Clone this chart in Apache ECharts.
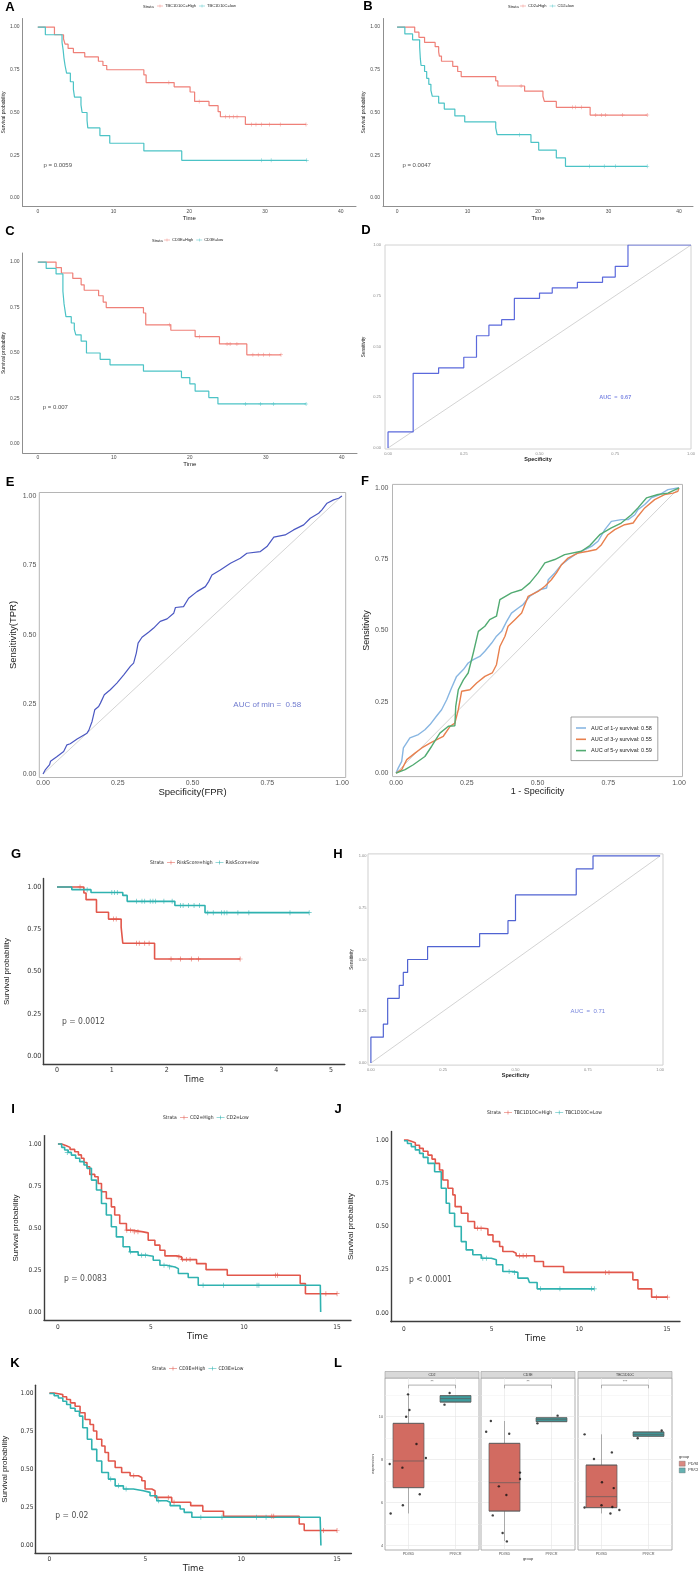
<!DOCTYPE html>
<html>
<head>
<meta charset="utf-8">
<title>Survival and ROC panels</title>
<script src="https://cdn.jsdelivr.net/npm/echarts@6.0.0/dist/echarts.min.js"></script>
<style>
html, body { margin: 0; padding: 0; background: #fff; }
#main { width: 698px; height: 1575px; }
</style>
</head>
<body>
<div id="main"></div>
<script>
// ---------- Kaplan-Meier curves: [time, survival] ----------
var kmA_high = [[0,1],[2.2,0.955],[3.4,0.93],[3.6,0.90],[4.0,0.875],[4.7,0.85],[6.2,0.825],[8.0,0.80],[8.6,0.775],[9.1,0.75],[14.0,0.72],[14.3,0.675],[18.0,0.65],[20.1,0.62],[20.7,0.565],[22.6,0.54],[23.8,0.505],[24.1,0.475],[27.4,0.43],[35.4,0.43]];
var kmA_low = [[0,1],[1.0,0.955],[3.2,0.91],[3.35,0.865],[3.45,0.82],[3.6,0.775],[3.8,0.73],[4.3,0.68],[4.7,0.635],[4.85,0.59],[5.7,0.545],[5.85,0.50],[6.5,0.455],[6.6,0.41],[8.2,0.365],[9.5,0.32],[14.0,0.275],[19.0,0.22],[35.5,0.22]];
var cenA_high = [[17.3,0.675],[21.3,0.565],[24.8,0.475],[25.3,0.475],[25.8,0.475],[26.3,0.475],[28.2,0.43],[28.8,0.43],[29.5,0.43],[30.6,0.43],[32.0,0.43],[35.4,0.43]];
var cenA_low = [[29.5,0.22],[30.8,0.22],[35.5,0.22]];

var kmB_high = [[0,1],[2.5,0.97],[3.1,0.94],[3.9,0.91],[5.4,0.885],[5.9,0.855],[6.0,0.83],[6.3,0.80],[7.9,0.77],[8.6,0.74],[9.1,0.71],[14.0,0.685],[14.3,0.655],[18.1,0.625],[20.7,0.595],[20.9,0.565],[22.6,0.53],[27.4,0.485],[35.5,0.485]];
var kmB_low = [[0,1],[1.1,0.96],[2.2,0.925],[3.2,0.885],[3.3,0.815],[3.4,0.775],[3.9,0.74],[4.2,0.70],[4.5,0.665],[4.8,0.63],[5.0,0.595],[5.9,0.555],[6.7,0.52],[8.2,0.48],[9.6,0.445],[14.0,0.41],[14.2,0.37],[19.0,0.325],[20.1,0.28],[22.6,0.235],[23.9,0.185],[35.5,0.185]];
var cenB_high = [[17.6,0.655],[24.9,0.53],[25.3,0.53],[26.2,0.53],[28.2,0.485],[29.0,0.485],[29.6,0.485],[32.0,0.485],[35.5,0.485]];
var cenB_low = [[17.4,0.37],[27.3,0.185],[29.4,0.185],[31.0,0.185],[35.5,0.185]];

var kmC_high = [[0,1],[2.4,0.97],[3.1,0.94],[4.6,0.91],[5.7,0.875],[6.1,0.845],[8.0,0.815],[8.6,0.78],[9.0,0.75],[13.9,0.72],[14.2,0.655],[17.5,0.625],[20.7,0.59],[23.9,0.55],[27.5,0.49],[32.0,0.49]];
var kmC_low = [[0,1],[1.1,0.965],[2.4,0.935],[3.3,0.84],[3.45,0.77],[3.7,0.70],[4.4,0.665],[4.8,0.63],[5.0,0.60],[5.7,0.565],[6.4,0.50],[8.2,0.465],[9.5,0.435],[13.9,0.40],[18.9,0.365],[20.0,0.33],[20.7,0.29],[22.5,0.255],[23.7,0.22],[35.3,0.22]];
var cenC_high = [[17.3,0.655],[21.3,0.59],[24.9,0.55],[25.3,0.55],[26.2,0.55],[28.3,0.49],[29.0,0.49],[29.7,0.49],[30.5,0.49],[32.0,0.49]];
var cenC_low = [[27.3,0.22],[29.3,0.22],[31.0,0.22],[35.3,0.22]];

var kmG_high = [[0,1],[0.49,0.964],[0.53,0.925],[0.72,0.85],[0.94,0.81],[1.17,0.762],[1.2,0.667],[1.78,0.574],[3.34,0.574]];
var kmG_low = [[0,1],[0.27,0.984],[0.62,0.967],[1.2,0.95],[1.28,0.915],[2.15,0.89],[2.7,0.848],[4.6,0.848]];
var cenG_high = [[0.42,1],[1.03,0.81],[1.08,0.81],[1.45,0.667],[1.5,0.667],[1.6,0.667],[1.68,0.667],[2.08,0.574],[2.25,0.574],[2.45,0.574],[2.58,0.574],[3.34,0.574]];
var cenG_low = [[0.55,0.984],[1.0,0.967],[1.05,0.967],[1.1,0.967],[1.45,0.915],[1.55,0.915],[1.6,0.915],[1.7,0.915],[1.75,0.915],[1.8,0.915],[1.95,0.915],[2.1,0.915],[2.25,0.89],[2.3,0.89],[2.4,0.89],[2.5,0.89],[2.6,0.89],[2.75,0.848],[2.85,0.848],[3.0,0.848],[3.05,0.848],[3.1,0.848],[3.3,0.848],[3.5,0.848],[4.25,0.848],[4.6,0.848]];

var kmI_high = [[0,1.0],[0.2,0.99],[0.45,0.98],[0.65,0.968],[0.9,0.954],[1.1,0.935],[1.26,0.915],[1.4,0.89],[1.56,0.865],[1.71,0.819],[1.98,0.805],[2.16,0.765],[2.34,0.716],[2.6,0.676],[2.87,0.626],[3.05,0.577],[3.32,0.527],[3.68,0.487],[4.04,0.477],[4.58,0.471],[4.85,0.427],[5.21,0.398],[5.48,0.368],[5.75,0.334],[6.38,0.328],[6.65,0.312],[7.45,0.288],[7.96,0.252],[9.1,0.219],[13.02,0.169],[13.3,0.109],[15.0,0.109]];
var kmI_low = [[0,1.0],[0.2,0.98],[0.36,0.964],[0.55,0.95],[0.72,0.934],[0.95,0.915],[1.17,0.895],[1.4,0.875],[1.56,0.855],[1.8,0.785],[2.07,0.726],[2.34,0.646],[2.6,0.577],[2.87,0.507],[3.14,0.447],[3.5,0.388],[3.86,0.358],[4.31,0.338],[4.76,0.332],[5.12,0.308],[5.48,0.278],[5.84,0.268],[6.29,0.258],[6.47,0.229],[7.0,0.205],[7.54,0.159],[14.1,0.159],[14.12,0]];
var cenI_high = [[3.7,0.487],[3.9,0.487],[4.1,0.477],[4.3,0.477],[6.5,0.328],[6.7,0.312],[6.9,0.312],[7.1,0.312],[11.7,0.219],[11.8,0.219],[14.4,0.109],[15.0,0.109]];
var cenI_low = [[0.5,0.95],[3.9,0.358],[4.5,0.338],[4.7,0.338],[5.7,0.278],[6.0,0.268],[7.8,0.159],[8.9,0.159],[10.7,0.159],[10.8,0.159]];

var kmJ_high = [[0,1.0],[0.2,0.993],[0.42,0.985],[0.65,0.97],[0.89,0.952],[1.1,0.935],[1.37,0.913],[1.6,0.89],[1.79,0.865],[2.03,0.827],[2.22,0.769],[2.51,0.721],[2.79,0.683],[2.92,0.615],[3.27,0.577],[3.65,0.529],[4.03,0.49],[4.5,0.487],[4.79,0.452],[5.08,0.413],[5.46,0.385],[5.64,0.356],[6.21,0.346],[6.4,0.331],[7.45,0.298],[7.96,0.269],[9.11,0.235],[13.06,0.192],[13.35,0.14],[14.13,0.092],[15.04,0.092]];
var kmJ_low = [[0,0.996],[0.2,0.98],[0.42,0.962],[0.65,0.943],[0.89,0.923],[1.1,0.9],[1.37,0.865],[1.75,0.817],[2.13,0.721],[2.41,0.635],[2.6,0.577],[2.89,0.5],[3.27,0.413],[3.55,0.365],[3.93,0.337],[4.41,0.317],[4.98,0.308],[5.27,0.279],[5.64,0.24],[6.21,0.235],[6.5,0.202],[7.07,0.192],[7.16,0.177],[7.6,0.14],[10.86,0.14]];
var cenJ_high = [[4.2,0.49],[4.4,0.49],[6.6,0.331],[6.8,0.331],[7.0,0.331],[11.5,0.235],[11.7,0.235],[14.4,0.092],[15.04,0.092]];
var cenJ_low = [[4.5,0.317],[4.7,0.317],[6.0,0.24],[6.3,0.235],[7.8,0.14],[8.9,0.14],[10.7,0.14],[10.86,0.14]];

var kmK_high = [[0,1.0],[0.25,0.995],[0.47,0.989],[0.7,0.975],[0.9,0.957],[1.1,0.935],[1.34,0.913],[1.6,0.87],[1.86,0.826],[2.12,0.793],[2.3,0.75],[2.47,0.696],[2.73,0.652],[2.9,0.609],[3.08,0.554],[3.43,0.511],[3.77,0.478],[4.21,0.457],[4.64,0.446],[4.82,0.424],[4.99,0.37],[5.34,0.359],[5.51,0.315],[6.38,0.283],[7.37,0.261],[8.0,0.224],[9.08,0.191],[13.03,0.141],[13.29,0.098],[15.0,0.098]];
var kmK_low = [[0,0.996],[0.25,0.982],[0.47,0.967],[0.7,0.945],[0.9,0.924],[1.1,0.9],[1.34,0.88],[1.57,0.848],[1.74,0.772],[1.98,0.696],[2.21,0.63],[2.47,0.554],[2.73,0.478],[3.08,0.435],[3.43,0.391],[3.86,0.37],[4.38,0.359],[4.9,0.348],[5.25,0.326],[5.6,0.293],[6.12,0.283],[6.3,0.261],[6.82,0.239],[7.03,0.217],[7.43,0.185],[14.12,0.185],[14.16,0]];
var cenK_high = [[4.4,0.457],[6.2,0.315],[6.5,0.283],[11.6,0.191],[11.7,0.191],[14.3,0.098],[15.0,0.098]];
var cenK_low = [[3.2,0.435],[3.6,0.391],[4.0,0.37],[5.7,0.293],[7.9,0.185],[9.0,0.185],[10.8,0.185],[11.3,0.185]];

// ---------- ROC curves: [1 - specificity, sensitivity] ----------
var diag = [[0,0],[1,1]];
var rocD = [[0,0],[0,0.079],[0.083,0.079],[0.083,0.368],[0.167,0.368],[0.167,0.395],[0.25,0.395],[0.25,0.447],[0.292,0.447],[0.292,0.553],[0.333,0.553],[0.333,0.605],[0.375,0.605],[0.375,0.632],[0.417,0.632],[0.417,0.737],[0.5,0.737],[0.5,0.763],[0.542,0.763],[0.542,0.789],[0.625,0.789],[0.625,0.816],[0.708,0.816],[0.708,0.842],[0.75,0.842],[0.75,0.895],[0.792,0.895],[0.792,1],[1,1]];
var rocH = [[0,0],[0,0.125],[0.043,0.125],[0.043,0.1875],[0.058,0.1875],[0.058,0.3125],[0.098,0.3125],[0.098,0.375],[0.112,0.375],[0.112,0.4375],[0.127,0.4375],[0.127,0.5],[0.196,0.5],[0.196,0.5625],[0.376,0.5625],[0.376,0.625],[0.474,0.625],[0.474,0.6875],[0.5,0.6875],[0.5,0.8125],[0.71,0.8125],[0.71,0.9375],[0.768,0.9375],[0.768,1],[1,1]];
var rocE = [[0,0],[0.008,0.016],[0.022,0.034],[0.025,0.046],[0.047,0.063],[0.069,0.081],[0.08,0.105],[0.091,0.109],[0.114,0.126],[0.147,0.147],[0.153,0.157],[0.164,0.189],[0.173,0.231],[0.186,0.243],[0.192,0.255],[0.205,0.285],[0.225,0.303],[0.247,0.327],[0.27,0.357],[0.292,0.387],[0.303,0.399],[0.312,0.435],[0.318,0.471],[0.331,0.492],[0.353,0.51],[0.37,0.525],[0.392,0.549],[0.415,0.558],[0.437,0.578],[0.443,0.599],[0.47,0.602],[0.487,0.632],[0.515,0.656],[0.543,0.674],[0.554,0.692],[0.565,0.716],[0.593,0.734],[0.627,0.758],[0.66,0.776],[0.682,0.794],[0.727,0.8],[0.749,0.818],[0.772,0.852],[0.81,0.86],[0.838,0.878],[0.872,0.896],[0.894,0.92],[0.922,0.938],[0.933,0.95],[0.95,0.974],[0.972,0.986],[0.989,0.992],[1,1]];
var rocF1 = [[0,0],[0.008,0.018],[0.02,0.041],[0.026,0.088],[0.049,0.123],[0.079,0.135],[0.102,0.152],[0.12,0.17],[0.144,0.201],[0.161,0.222],[0.179,0.257],[0.196,0.298],[0.214,0.339],[0.238,0.363],[0.255,0.386],[0.273,0.398],[0.296,0.409],[0.314,0.427],[0.338,0.456],[0.355,0.48],[0.373,0.497],[0.391,0.532],[0.408,0.561],[0.432,0.579],[0.449,0.591],[0.473,0.62],[0.491,0.632],[0.508,0.643],[0.532,0.649],[0.538,0.678],[0.561,0.702],[0.585,0.731],[0.608,0.749],[0.632,0.766],[0.655,0.778],[0.691,0.795],[0.714,0.813],[0.738,0.854],[0.761,0.883],[0.796,0.889],[0.82,0.889],[0.844,0.906],[0.855,0.924],[0.879,0.942],[0.902,0.965],[0.932,0.977],[0.961,0.994],[0.996,1.0],[1,1]];
var rocF3 = [[0,0],[0.02,0.012],[0.038,0.047],[0.067,0.07],[0.091,0.088],[0.12,0.105],[0.144,0.117],[0.167,0.129],[0.191,0.164],[0.208,0.175],[0.22,0.222],[0.232,0.287],[0.261,0.292],[0.285,0.316],[0.314,0.339],[0.34,0.351],[0.355,0.38],[0.367,0.444],[0.385,0.48],[0.396,0.515],[0.42,0.538],[0.444,0.561],[0.467,0.62],[0.502,0.637],[0.526,0.655],[0.549,0.678],[0.567,0.702],[0.585,0.731],[0.608,0.754],[0.644,0.772],[0.679,0.778],[0.708,0.784],[0.726,0.801],[0.749,0.836],[0.773,0.854],[0.808,0.871],[0.838,0.877],[0.855,0.901],[0.879,0.93],[0.914,0.959],[0.949,0.977],[0.979,0.982],[0.996,0.988],[1,1]];
var rocF5 = [[0,0],[0.032,0.012],[0.061,0.029],[0.102,0.058],[0.126,0.094],[0.155,0.14],[0.185,0.164],[0.208,0.166],[0.211,0.234],[0.22,0.292],[0.238,0.327],[0.255,0.351],[0.273,0.421],[0.291,0.497],[0.314,0.515],[0.331,0.538],[0.355,0.55],[0.367,0.608],[0.408,0.632],[0.444,0.643],[0.473,0.667],[0.502,0.702],[0.526,0.737],[0.561,0.749],[0.596,0.766],[0.655,0.778],[0.685,0.798],[0.72,0.836],[0.761,0.86],[0.796,0.877],[0.832,0.906],[0.855,0.93],[0.885,0.965],[0.926,0.977],[0.961,0.982],[0.991,0.996],[1,1]];

// ---------- Box plots (panel L): [min, Q1, median, Q3, max] ----------
var geneNames = ['CD2', 'CD3E', 'TBC1D10C'];
var groupNames = ['PD/SD', 'PR/CR'];
var boxPD = [[5.5,6.70,7.94,9.69,11.04],[4.22,5.61,6.93,8.76,9.8],[5.5,5.77,6.28,7.75,9.18]];
var boxPR = [[10.68,10.68,10.84,10.98,10.98],[9.77,9.77,9.86,9.95,9.95],[9.09,9.09,9.18,9.29,9.29]];
var jitterPD = [
  [[-0.01,11.04],[0.02,10.31],[-0.05,10.0],[0.17,8.73],[0.37,8.08],[-0.4,7.8],[-0.13,7.63],[0.24,6.39],[-0.12,5.88],[-0.38,5.5]],
  [[-0.29,9.8],[-0.39,9.3],[0.1,9.21],[0.33,7.4],[0.33,7.1],[-0.12,6.76],[0.04,6.36],[-0.25,5.41],[-0.04,4.59],[0.05,4.2]],
  [[-0.36,9.18],[-0.16,8.03],[0.22,8.34],[0.01,6.95],[0.26,6.68],[0,5.88],[-0.36,5.78],[0.23,5.8],[0.19,5.5],[0.38,5.66]]
];
var jitterPR = [
  [[0.875,11.1],[0.766,10.56]],
  [[1.13,10.05],[0.7,9.69]],
  [[1.28,9.36],[0.77,9.0]]
];
var sigStars = ['**', '**', '***'];
var bracket = [[0,11.32],[0,11.47],[1,11.47],[1,11.32]];
var majorY = [4, 6, 8, 10];
var minorY = [5, 7, 9, 11];

// ---------- helpers ----------
var F_REG = 'Liberation Sans, Arial, sans-serif';
var F_NAR = 'Liberation Sans Narrow, DejaVu Sans Condensed, Arial Narrow, sans-serif';
var PLUS = 'path://M4.3,0H5.7V10H4.3ZM0,4.3H10V5.7H0Z';
var KEY = 'path://M0,4.3H20V5.7H0ZM9.3,0H10.7V10H9.3Z';

var grids = [], xAxes = [], yAxes = [], series = [], legends = [], graphics = [];

// label only the values that are multiples of step
function fmt(step, dec) {
  return function (v) {
    var k = v / step;
    if (Math.abs(k - Math.round(k)) > 1e-6) return '';
    var r = Math.round(k) * step;
    if (Math.abs(r) < 1e-9) r = 0;
    return dec ? r.toFixed(dec) : String(Math.round(r));
  };
}

function txt(s, x, y, size, opt) {
  opt = opt || {};
  graphics.push({
    type: 'text', x: x, y: y, silent: true,
    style: {
      text: s, fill: opt.color || '#000', fontSize: size,
      fontFamily: opt.font || F_REG, fontWeight: opt.weight || 'normal',
      align: opt.align || 'left', verticalAlign: 'middle'
    }
  });
}

var SMALL = { axis: '#8f8f8f', aw: 1, tick: 5, tickColor: '#4d4d4d', tickFont: F_REG,
  yname: 5, xname: 6, nameFont: F_REG, lw: 1.2, cs: 4, leg: 4, legFont: F_REG, pf: 6, pFont: F_REG };
var BIG = { axis: '#3d3d3d', aw: 1.4, tick: 6.5, tickColor: '#333', tickFont: F_NAR,
  yname: 8, xname: 9.5, nameFont: F_REG, lw: 1.6, cs: 5, leg: 5, legFont: F_NAR, pf: 8.5, pFont: F_NAR };

function kmPanel(p) {
  var st = p.big ? BIG : SMALL;
  var gi = grids.length, xi = xAxes.length, yi = yAxes.length;
  grids.push({ left: p.box[0], top: p.box[1], width: p.box[2], height: p.box[3] });
  xAxes.push({
    gridIndex: gi, type: 'value', min: p.x[0], max: p.x[1], interval: p.x[2],
    axisLine: { show: true, onZero: false, lineStyle: { color: st.axis, width: st.aw } },
    axisTick: { show: false }, splitLine: { show: false },
    axisLabel: { formatter: fmt(p.x[3], 0), fontSize: p.tick || st.tick, color: st.tickColor,
      fontFamily: st.tickFont, margin: p.xm },
    name: 'Time', nameLocation: 'middle', nameGap: p.xGap,
    nameTextStyle: { fontSize: p.xnf || st.xname, fontFamily: p.big ? F_NAR : F_REG, color: '#222' }
  });
  yAxes.push({
    gridIndex: gi, type: 'value', min: -0.05, max: 1.05, interval: 0.05,
    axisLine: { show: true, onZero: false, lineStyle: { color: st.axis, width: st.aw } },
    axisTick: { show: false }, splitLine: { show: false },
    axisLabel: { formatter: fmt(0.25, 2), fontSize: p.tick || st.tick, color: st.tickColor,
      fontFamily: st.tickFont, margin: p.ym },
    name: 'Survival probability', nameLocation: 'middle', nameGap: p.yGap,
    nameTextStyle: { fontSize: st.yname, fontFamily: st.nameFont, color: '#222' }
  });
  var legendNames = [];
  p.curves.forEach(function (c) {
    var nm = p.id + '|' + c.name;
    legendNames.push(nm);
    series.push({
      type: 'line', name: nm, xAxisIndex: xi, yAxisIndex: yi, data: c.data, step: 'end',
      showSymbol: false, silent: true, lineStyle: { color: c.color, width: st.lw },
      itemStyle: { color: c.color }, z: 3
    });
    series.push({
      type: 'scatter', name: nm + '|censor', xAxisIndex: xi, yAxisIndex: yi, data: c.censor,
      symbol: PLUS, symbolSize: st.cs, silent: true, itemStyle: { color: c.color }, z: 4
    });
  });
  series.push({
    type: 'scatter', xAxisIndex: xi, yAxisIndex: yi, data: [p.pPos], symbolSize: 0, silent: true,
    label: { show: true, position: 'right', distance: 0, formatter: p.pText,
      fontSize: st.pf, fontFamily: st.pFont, color: '#222' }
  });
  txt('Strata', p.leg[0], p.leg[1], st.leg, { font: st.legFont, color: '#222' });
  legends.push({
    left: p.leg[2], top: p.leg[1] - 3, itemWidth: p.big ? 8 : 6, itemHeight: 5, itemGap: 3,
    padding: 0, icon: KEY, selectedMode: false, data: legendNames,
    formatter: function (n) { return n.split('|')[1]; },
    textStyle: { fontSize: st.leg, fontFamily: st.legFont, color: '#222', padding: [0, 0, 0, -3] }
  });
}

function rocPanel(p) {
  var gi = grids.length, xi = xAxes.length, yi = yAxes.length;
  grids.push({ left: p.box[0], top: p.box[1], width: p.box[2], height: p.box[3],
    show: true, borderColor: p.border, borderWidth: 1, backgroundColor: '#fff' });
  xAxes.push({
    gridIndex: gi, type: 'value', min: p.x[0], max: p.x[1], interval: p.x[2],
    axisLine: { show: false }, axisTick: { show: false }, splitLine: { show: false },
    axisLabel: { formatter: fmt(0.25, 2), fontSize: p.tick, color: p.tickColor, fontFamily: F_REG, margin: p.xm },
    name: p.xName, nameLocation: 'middle', nameGap: p.xGap,
    nameTextStyle: { fontSize: p.xnf, fontFamily: F_REG, fontWeight: p.nameWeight || 'normal', color: '#222' }
  });
  yAxes.push({
    gridIndex: gi, type: 'value', min: p.y[0], max: p.y[1], interval: p.y[2],
    axisLine: { show: false }, axisTick: { show: false }, splitLine: { show: false },
    axisLabel: { formatter: fmt(0.25, 2), fontSize: p.tick, color: p.tickColor, fontFamily: F_REG, margin: p.ym },
    name: p.yName, nameLocation: 'middle', nameGap: p.yGap,
    nameTextStyle: { fontSize: p.ynf, fontFamily: F_REG, color: '#222' }
  });
  series.push({
    type: 'line', xAxisIndex: xi, yAxisIndex: yi, data: diag, showSymbol: false, silent: true,
    lineStyle: { color: '#c8c8c8', width: 0.8 }, z: 2
  });
  p.curves.forEach(function (c) {
    series.push({
      type: 'line', name: c.name, xAxisIndex: xi, yAxisIndex: yi, data: c.data, showSymbol: false,
      silent: true, lineStyle: { color: c.color, width: c.width || 1.3 }, itemStyle: { color: c.color }, z: 3
    });
  });
  if (p.auc) {
    series.push({
      type: 'scatter', xAxisIndex: xi, yAxisIndex: yi, data: [[0.75, 0.25]], symbolSize: 0, silent: true,
      label: { show: true, position: 'inside', formatter: p.auc, fontSize: p.aucSize,
        fontFamily: F_REG, fontWeight: p.aucWeight || 'normal', color: p.curves[0].color }
    });
  }
}

// ---------- KM panels ----------
var RED1 = '#ef8078', TEAL1 = '#4cc3c6';
var RED2 = '#e2574b', TEAL2 = '#2fb2b0';

kmPanel({ id: 'A', box: [21, 18.5, 335, 188], x: [-2, 42, 2, 10], xm: 2.5, ym: 3, xGap: 8, yGap: 13,
  curves: [{ name: 'TBC1D10C=High', color: RED1, data: kmA_high, censor: cenA_high },
           { name: 'TBC1D10C=low', color: TEAL1, data: kmA_low, censor: cenA_low }],
  pPos: [0.75, 0.19], pText: 'p = 0.0059', leg: [143, 7, 157] });
kmPanel({ id: 'B', box: [383, 18.5, 310, 188], x: [-2, 42, 2, 10], xm: 2.5, ym: 3, xGap: 8, yGap: 11,
  curves: [{ name: 'CD2=High', color: RED1, data: kmB_high, censor: cenB_high },
           { name: 'CD2=low', color: TEAL1, data: kmB_low, censor: cenB_low }],
  pPos: [0.75, 0.19], pText: 'p = 0.0047', leg: [508, 7, 520] });
kmPanel({ id: 'C', box: [18, 253, 339, 200], x: [-2, 42, 2, 10], xm: 2.5, ym: 3, xGap: 8, yGap: 11,
  curves: [{ name: 'CD3E=High', color: RED1, data: kmC_high, censor: cenC_high },
           { name: 'CD3E=low', color: TEAL1, data: kmC_low, censor: cenC_low }],
  pPos: [0.65, 0.2], pText: 'p = 0.007', leg: [152, 241, 164] });
kmPanel({ id: 'G', big: true, tick: 7, xnf: 9, box: [43.3, 878.5, 301.5, 186], x: [-0.25, 5.25, 0.25, 1], xm: 2.5, ym: 2, xGap: 8, yGap: 33,
  curves: [{ name: 'RiskScore=high', color: RED2, data: kmG_high, censor: cenG_high },
           { name: 'RiskScore=low', color: TEAL2, data: kmG_low, censor: cenG_low }],
  pPos: [0.09, 0.2], pText: 'p = 0.0012', leg: [150, 863, 167] });
kmPanel({ id: 'I', big: true, box: [44, 1135.6, 307, 184.8], x: [-0.75, 15.75, 0.25, 5], xm: 3, ym: 2.5, xGap: 10, yGap: 24,
  curves: [{ name: 'CD2=High', color: RED2, data: kmI_high, censor: cenI_high },
           { name: 'CD2=Low', color: TEAL2, data: kmI_low, censor: cenI_low }],
  pPos: [0.32, 0.195], pText: 'p = 0.0083', leg: [163, 1118, 180] });
kmPanel({ id: 'J', big: true, box: [390.8, 1131.4, 289.2, 190.3], x: [-0.75, 15.75, 0.25, 5], xm: 4, ym: 2, xGap: 12, yGap: 36,
  curves: [{ name: 'TBC1D10C=High', color: RED2, data: kmJ_high, censor: cenJ_high },
           { name: 'TBC1D10C=Low', color: TEAL2, data: kmJ_low, censor: cenJ_low }],
  pPos: [0.29, 0.19], pText: 'p < 0.0001', leg: [487, 1113, 504] });
kmPanel({ id: 'K', big: true, box: [34.6, 1385.3, 316.8, 169.4], x: [-0.75, 15.75, 0.25, 5], xm: 3, ym: 1.5, xGap: 10, yGap: 26,
  curves: [{ name: 'CD3E=High', color: RED2, data: kmK_high, censor: cenK_high },
           { name: 'CD3E=Low', color: TEAL2, data: kmK_low, censor: cenK_low }],
  pPos: [0.31, 0.197], pText: 'p = 0.02', leg: [152, 1369, 169] });

// ---------- ROC panels ----------
rocPanel({ box: [385, 245, 306, 204], border: '#d2d2d2', x: [-0.01, 1.0, 0.01], y: [-0.005, 1.0, 0.005],
  tick: 4, tickColor: '#8a8a8a', xm: 2.5, ym: 4, xName: 'Specificity', xnf: 5.5, nameWeight: 'bold', xGap: 7,
  yName: 'Sensitivity', ynf: 4.5, yGap: 19,
  curves: [{ name: 'rocD', color: '#5b69dc', data: rocD, width: 1.2 }], auc: 'AUC  =  0.67', aucSize: 5.5, aucWeight: 'bold' });
rocPanel({ box: [39.3, 492.5, 306.4, 285], border: '#b5b5b5', x: [-0.0125, 1.0125, 0.0125], y: [-0.0125, 1.0125, 0.0125],
  tick: 7, tickColor: '#555', xm: 2, ym: 3, xName: 'Specificity(FPR)', xnf: 9.5, xGap: 8.5,
  yName: 'Sensitivity(TPR)', ynf: 9.5, yGap: 15,
  curves: [{ name: 'rocE', color: '#4a57c2', data: rocE, width: 1.2 }], auc: 'AUC of min =  0.58', aucSize: 8 });
rocPanel({ box: [392.5, 484.4, 290, 292.2], border: '#b5b5b5', x: [-0.0125, 1.0125, 0.0125], y: [-0.0125, 1.0125, 0.0125],
  tick: 7, tickColor: '#555', xm: 2.5, ym: 4, xName: '1 - Specificity', xnf: 9, xGap: 9,
  yName: 'Sensitivity', ynf: 9, yGap: 14,
  curves: [{ name: 'AUC of 1-y survival: 0.58', color: '#88b6e2', data: rocF1, width: 1.4 },
           { name: 'AUC of 3-y survival: 0.55', color: '#e8804e', data: rocF3, width: 1.4 },
           { name: 'AUC of 5-y survival: 0.59', color: '#52ab72', data: rocF5, width: 1.4 }] });
rocPanel({ box: [368, 853.9, 295, 211.2], border: '#cfcfcf', x: [-0.01, 1.01, 0.01], y: [-0.01, 1.01, 0.01],
  tick: 4, tickColor: '#8a8a8a', xm: 2.5, ym: 1.5, xName: 'Specificity', xnf: 5.5, nameWeight: 'bold', xGap: 7,
  yName: 'Sensitivity', ynf: 4.5, yGap: 14,
  curves: [{ name: 'rocH', color: '#5063d2', data: rocH, width: 1.2 }], auc: 'AUC  =  0.71', aucSize: 6 });

legends.push({
  left: 571, top: 717, orient: 'vertical', icon: 'rect', itemWidth: 10, itemHeight: 1.6, itemGap: 5.3,
  padding: [8, 6, 7, 5], borderColor: '#8c8c8c', borderWidth: 0.8, backgroundColor: '#fff', selectedMode: false,
  data: ['AUC of 1-y survival: 0.58', 'AUC of 3-y survival: 0.55', 'AUC of 5-y survival: 0.59'],
  textStyle: { fontSize: 5.5, fontFamily: F_REG, color: '#222' }
});

// ---------- L: faceted box plots ----------
var RED_F = '#d26b61', TEAL_F = '#3e9d9e';
var facetLeft = [385, 481, 578], facetW = 94, facetTop = 1378, facetH = 172;
geneNames.forEach(function (g, i) {
  var gi = grids.length;
  grids.push({ left: facetLeft[i], top: facetTop, width: facetW, height: facetH,
    show: true, borderColor: '#9a9a9a', borderWidth: 0.8, backgroundColor: '#fff' });
  var cx = xAxes.length;
  xAxes.push({ gridIndex: gi, type: 'category', data: groupNames,
    axisLine: { show: false }, axisTick: { show: false }, splitLine: { show: false },
    axisLabel: { fontSize: 3.8, color: '#555', margin: 2, fontFamily: F_REG },
    name: i === 1 ? 'group' : '', nameLocation: 'middle', nameGap: 7,
    nameTextStyle: { fontSize: 4, color: '#333', fontFamily: F_REG } });
  var vx = xAxes.length;
  xAxes.push({ gridIndex: gi, type: 'value', min: -0.5, max: 1.5, show: false });
  var yi = yAxes.length;
  yAxes.push({ gridIndex: gi, type: 'value', min: 3.8, max: 11.8, interval: 0.2,
    axisLine: { show: false }, axisTick: { show: false }, splitLine: { show: false },
    axisLabel: { show: i === 0, formatter: fmt(2, 0), fontSize: 3.8, color: '#555', margin: 2, fontFamily: F_REG },
    name: i === 0 ? 'expression' : '', nameLocation: 'middle', nameGap: 6,
    nameTextStyle: { fontSize: 4, color: '#333', fontFamily: F_REG } });

  var gridLines = [];
  majorY.forEach(function (v) { gridLines.push({ yAxis: v, lineStyle: { color: '#e4e4e4', width: 0.6, type: 'solid' } }); });
  minorY.forEach(function (v) { gridLines.push({ yAxis: v, lineStyle: { color: '#f1f1f1', width: 0.5, type: 'solid' } }); });
  [0, 1].forEach(function (v) { gridLines.push({ xAxis: v, lineStyle: { color: '#e4e4e4', width: 0.6, type: 'solid' } }); });

  series.push({
    type: 'line', xAxisIndex: vx, yAxisIndex: yi, data: bracket, showSymbol: false, silent: true,
    lineStyle: { color: '#7a7a7a', width: 0.6 }, z: 3,
    markLine: { silent: true, symbol: 'none', label: { show: false }, z: 1, animation: false, data: gridLines }
  });
  // whiskers without end caps (ggplot style)
  [boxPD[i], boxPR[i]].forEach(function (b, k) {
    [[b[0], b[1]], [b[3], b[4]]].forEach(function (seg) {
      if (seg[1] - seg[0] <= 0) return;
      series.push({ type: 'line', xAxisIndex: vx, yAxisIndex: yi, data: [[k, seg[0]], [k, seg[1]]],
        showSymbol: false, silent: true, lineStyle: { color: '#7a7a7a', width: 0.6 }, z: 2 });
    });
  });
  // boxes: whiskers drawn above, so the box runs from Q1 to Q3
  function boxOnly(b) { return [b[1], b[1], b[2], b[3], b[3]]; }
  series.push({
    type: 'boxplot', xAxisIndex: cx, yAxisIndex: yi, boxWidth: [31, 31], silent: true, z: 2,
    itemStyle: { borderColor: '#555', borderWidth: 0.7 },
    data: [{ value: boxOnly(boxPD[i]), itemStyle: { color: RED_F, borderColor: '#5a5a5a' } },
           { value: boxOnly(boxPR[i]), itemStyle: { color: TEAL_F, borderColor: '#5a5a5a' } }]
  });
  series.push({
    type: 'scatter', xAxisIndex: vx, yAxisIndex: yi, data: [[0.5, 11.64]], symbolSize: 0, silent: true,
    label: { show: true, position: 'inside', formatter: sigStars[i], fontSize: 4, color: '#333' }
  });
  series.push({ type: 'scatter', name: 'PD/SD', xAxisIndex: vx, yAxisIndex: yi, data: jitterPD[i],
    symbolSize: 2.4, silent: true, itemStyle: { color: '#111' }, z: 4 });
  series.push({ type: 'scatter', name: 'PR/CR', xAxisIndex: vx, yAxisIndex: yi, data: jitterPR[i],
    symbolSize: 2.4, silent: true, itemStyle: { color: '#111' }, z: 4 });

  graphics.push({ type: 'rect', silent: true,
    shape: { x: facetLeft[i], y: facetTop - 6.5, width: facetW, height: 6.5 },
    style: { fill: '#d9d9d9', stroke: '#9a9a9a', lineWidth: 0.6 } });
  txt(g, facetLeft[i] + facetW / 2, facetTop - 3.2, 3.5, { align: 'center', color: '#333' });
});

txt('group', 679, 1457, 4, { color: '#333' });
legends.push({
  left: 679, top: 1461, orient: 'vertical', icon: 'rect', itemWidth: 6, itemHeight: 5, itemGap: 1.3,
  padding: 0, selectedMode: false,
  data: [{ name: 'PD/SD', itemStyle: { color: RED_F, borderColor: '#555', borderWidth: 0.4 } },
         { name: 'PR/CR', itemStyle: { color: TEAL_F, borderColor: '#555', borderWidth: 0.4 } }],
  textStyle: { fontSize: 3.8, fontFamily: F_REG, color: '#333', padding: [0, 0, 0, -2] }
});

// ---------- panel letters ----------
[['A', 10, 7], ['B', 368, 6], ['C', 10, 231], ['D', 366, 230], ['E', 10, 482], ['F', 365, 481],
 ['G', 16, 854], ['H', 338, 854], ['I', 13, 1109], ['J', 338, 1109], ['K', 15, 1363], ['L', 338, 1363]]
  .forEach(function (l) { txt(l[0], l[1], l[2], 13, { weight: 'bold', align: 'center' }); });

var chart = echarts.init(document.getElementById('main'), null, { renderer: 'canvas' });
chart.setOption({
  animation: false,
  backgroundColor: '#fff',
  grid: grids,
  xAxis: xAxes,
  yAxis: yAxes,
  legend: legends,
  series: series,
  graphic: { elements: graphics }
});
</script>
</body>
</html>
